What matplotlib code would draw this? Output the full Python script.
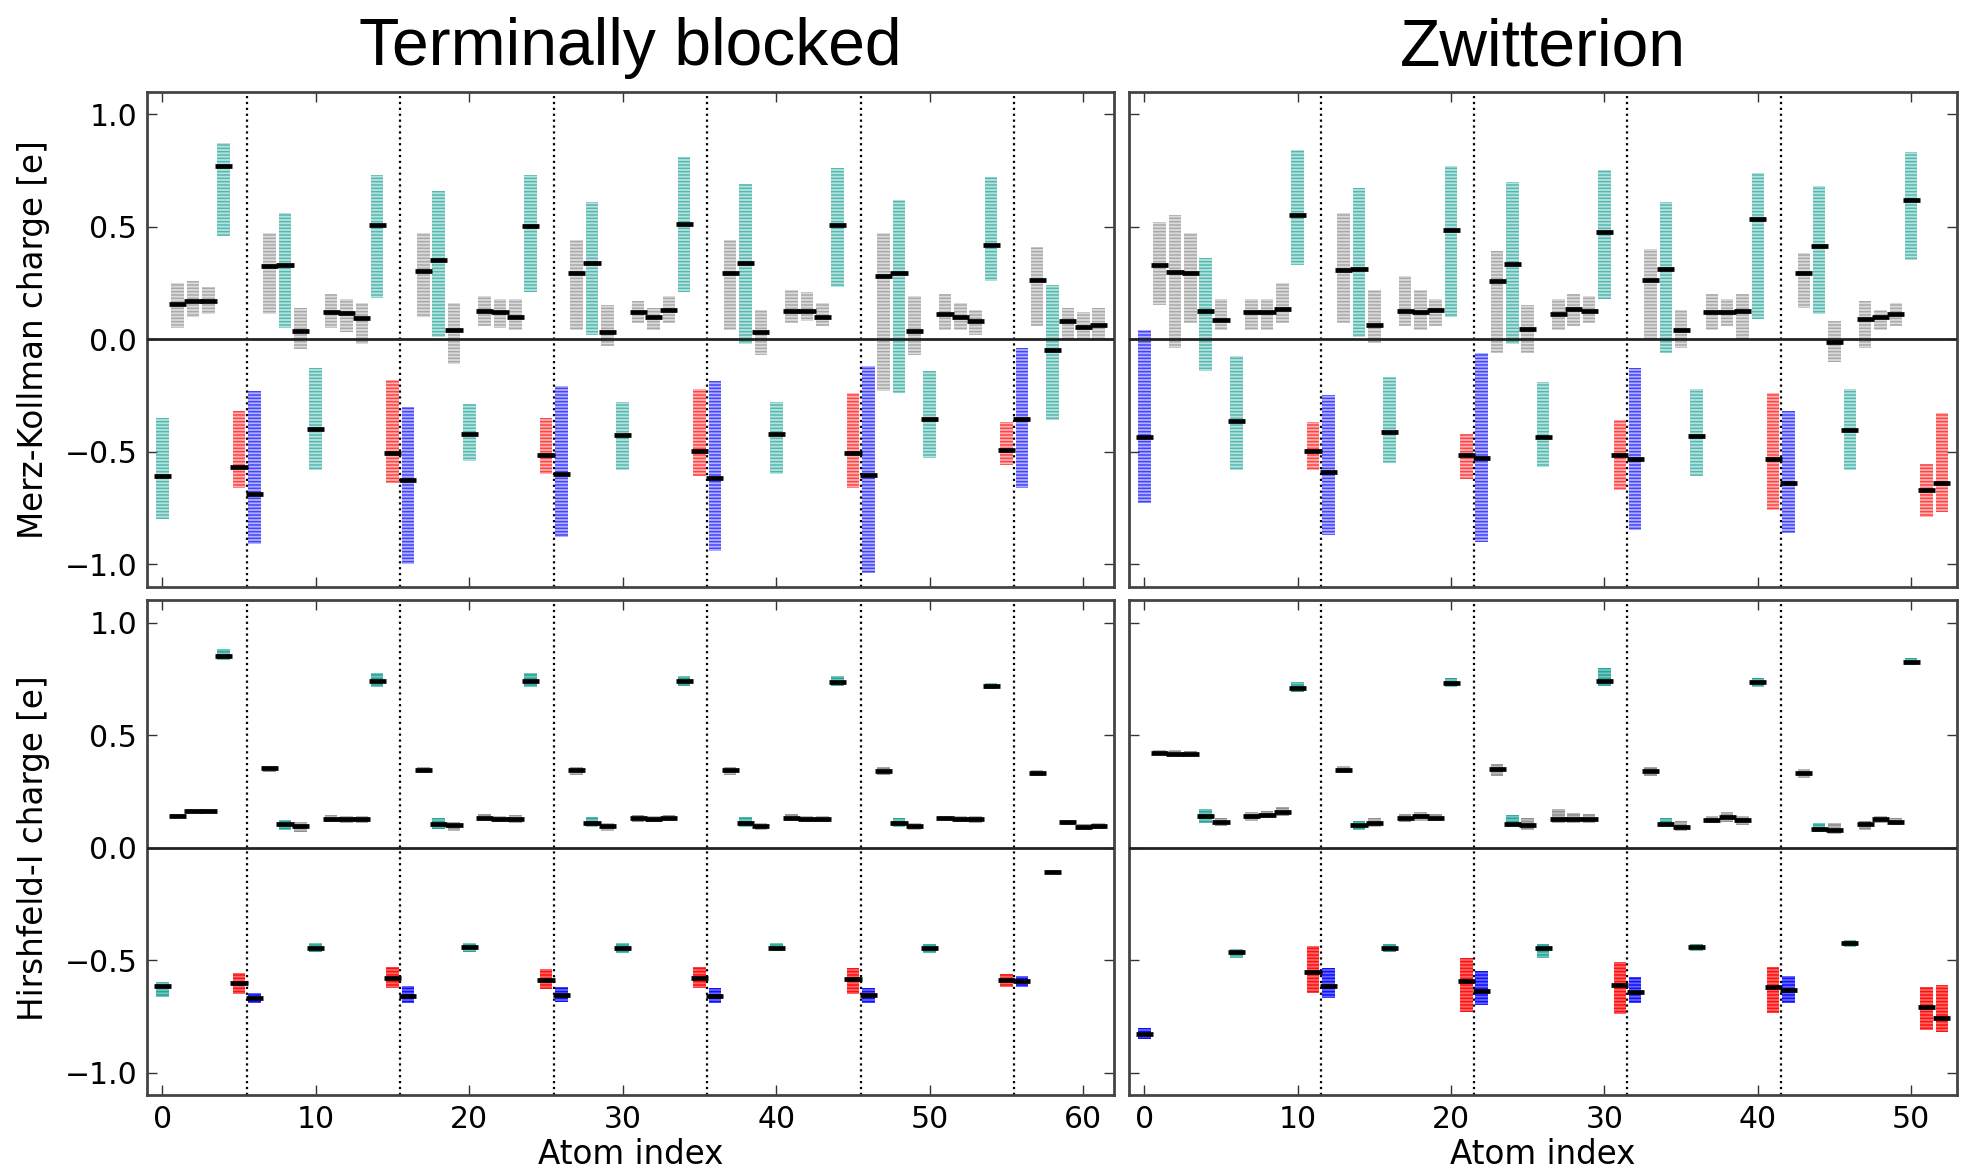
import numpy as np
import matplotlib
matplotlib.use("Agg")
import matplotlib.pyplot as plt
from matplotlib.colors import to_rgba

# ---------------- data ----------------
tb_elements = "CHHHCO" + "NHCHCHHHCO" * 5 + "NHCHHH"          # 62 atoms
zw_elements = "NHHHCHCHHHCO" + "NHCHCHHHCO" * 3 + "NHCHCHHHCOO"  # 53 atoms

tb_dividers = [5.5, 15.5, 25.5, 35.5, 45.5, 55.5]
zw_dividers = [11.5, 21.5, 31.5, 41.5]

# Merz-Kollman, terminally blocked
mk_tb_mean = [-0.61, 0.156, 0.17, 0.17, 0.77, -0.567,
              -0.686, 0.326, 0.33, 0.037, -0.40, 0.121, 0.116, 0.093, 0.507, -0.504,
              -0.627, 0.304, 0.351, 0.039, -0.422, 0.126, 0.119, 0.10, 0.505, -0.514,
              -0.60, 0.296, 0.34, 0.034, -0.425, 0.121, 0.10, 0.129, 0.511, -0.496,
              -0.619, 0.293, 0.34, 0.031, -0.422, 0.126, 0.126, 0.10, 0.507, -0.504,
              -0.604, 0.279, 0.292, 0.037, -0.353, 0.111, 0.10, 0.081, 0.419, -0.492,
              -0.356, 0.262, -0.049, 0.079, 0.056, 0.062]
mk_tb_lo = [-0.80, 0.05, 0.10, 0.11, 0.46, -0.66,
            -0.91, 0.11, 0.05, -0.045, -0.58, 0.05, 0.03, -0.02, 0.185, -0.64,
            -1.00, 0.10, 0.01, -0.11, -0.54, 0.06, 0.05, 0.04, 0.21, -0.60,
            -0.88, 0.04, 0.02, -0.03, -0.58, 0.07, 0.04, 0.07, 0.21, -0.61,
            -0.94, 0.04, -0.02, -0.07, -0.60, 0.07, 0.08, 0.06, 0.23, -0.66,
            -1.04, -0.23, -0.24, -0.07, -0.53, 0.04, 0.04, 0.02, 0.26, -0.56,
            -0.66, 0.06, -0.36, 0.00, 0.00, -0.01]
mk_tb_hi = [-0.35, 0.25, 0.26, 0.23, 0.87, -0.32,
            -0.23, 0.47, 0.56, 0.14, -0.13, 0.20, 0.18, 0.16, 0.73, -0.18,
            -0.30, 0.47, 0.66, 0.16, -0.29, 0.19, 0.18, 0.18, 0.73, -0.35,
            -0.21, 0.44, 0.61, 0.15, -0.28, 0.17, 0.14, 0.19, 0.81, -0.22,
            -0.185, 0.44, 0.69, 0.13, -0.28, 0.22, 0.21, 0.16, 0.76, -0.24,
            -0.12, 0.47, 0.62, 0.19, -0.14, 0.20, 0.16, 0.13, 0.72, -0.37,
            -0.04, 0.41, 0.24, 0.14, 0.12, 0.14]

# Merz-Kollman, zwitterion
mk_zw_mean = [-0.434, 0.329, 0.30, 0.293, 0.126, 0.087, -0.364, 0.119, 0.119, 0.136, 0.553, -0.496,
              -0.59, 0.307, 0.31, 0.065, -0.413, 0.126, 0.119, 0.129, 0.484, -0.514,
              -0.529, 0.259, 0.333, 0.044, -0.434, 0.111, 0.133, 0.126, 0.477, -0.514,
              -0.533, 0.264, 0.314, 0.04, -0.43, 0.119, 0.119, 0.126, 0.532, -0.533,
              -0.64, 0.292, 0.412, -0.012, -0.404, 0.09, 0.099, 0.111, 0.619, -0.671, -0.641]
mk_zw_lo = [-0.73, 0.15, -0.04, 0.07, -0.14, 0.04, -0.58, 0.04, 0.04, 0.07, 0.33, -0.58,
            -0.87, 0.07, 0.01, -0.015, -0.55, 0.06, 0.04, 0.06, 0.10, -0.62,
            -0.90, -0.06, -0.02, -0.06, -0.57, 0.04, 0.06, 0.07, 0.18, -0.67,
            -0.85, 0.00, -0.06, -0.04, -0.61, 0.04, 0.06, 0.00, 0.09, -0.76,
            -0.86, 0.14, 0.11, -0.10, -0.58, -0.04, 0.04, 0.06, 0.35, -0.79, -0.77]
mk_zw_hi = [0.04, 0.52, 0.55, 0.47, 0.36, 0.18, -0.074, 0.18, 0.18, 0.25, 0.84, -0.37,
            -0.25, 0.56, 0.67, 0.22, -0.17, 0.28, 0.22, 0.18, 0.77, -0.42,
            -0.06, 0.39, 0.70, 0.15, -0.19, 0.18, 0.20, 0.19, 0.75, -0.36,
            -0.13, 0.40, 0.61, 0.13, -0.22, 0.20, 0.18, 0.20, 0.74, -0.24,
            -0.32, 0.385, 0.68, 0.08, -0.22, 0.17, 0.13, 0.16, 0.83, -0.556, -0.33]

# Hirshfeld-I, terminally blocked
hi_tb_mean = [-0.613, 0.141, 0.162, 0.162, 0.853, -0.60,
              -0.667, 0.352, 0.104, 0.095, -0.444, 0.129, 0.127, 0.127, 0.74, -0.58,
              -0.66, 0.347, 0.107, 0.099, -0.442, 0.134, 0.129, 0.129, 0.739, -0.586,
              -0.655, 0.347, 0.112, 0.095, -0.444, 0.13, 0.129, 0.134, 0.74, -0.58,
              -0.657, 0.347, 0.112, 0.095, -0.444, 0.134, 0.127, 0.127, 0.737, -0.583,
              -0.655, 0.343, 0.112, 0.095, -0.444, 0.13, 0.129, 0.129, 0.717, -0.586,
              -0.593, 0.333, -0.106, 0.116, 0.094, 0.097]
hi_tb_lo = [-0.665, 0.13, 0.152, 0.152, 0.835, -0.65,
            -0.69, 0.335, 0.08, 0.07, -0.465, 0.115, 0.11, 0.11, 0.715, -0.625,
            -0.69, 0.33, 0.085, 0.075, -0.465, 0.12, 0.115, 0.11, 0.715, -0.63,
            -0.685, 0.325, 0.09, 0.075, -0.47, 0.115, 0.115, 0.12, 0.72, -0.625,
            -0.69, 0.325, 0.09, 0.08, -0.46, 0.12, 0.115, 0.115, 0.72, -0.65,
            -0.69, 0.325, 0.09, 0.08, -0.47, 0.12, 0.115, 0.11, 0.705, -0.62,
            -0.62, 0.32, -0.115, 0.10, 0.08, 0.085]
hi_tb_hi = [-0.595, 0.15, 0.172, 0.172, 0.885, -0.555,
            -0.645, 0.365, 0.125, 0.115, -0.425, 0.145, 0.14, 0.14, 0.775, -0.53,
            -0.615, 0.36, 0.13, 0.115, -0.425, 0.15, 0.14, 0.145, 0.775, -0.54,
            -0.62, 0.36, 0.135, 0.11, -0.425, 0.145, 0.14, 0.145, 0.765, -0.53,
            -0.625, 0.36, 0.135, 0.11, -0.425, 0.15, 0.14, 0.14, 0.765, -0.535,
            -0.625, 0.36, 0.13, 0.11, -0.43, 0.14, 0.14, 0.14, 0.73, -0.56,
            -0.57, 0.345, -0.10, 0.125, 0.105, 0.11]

# Hirshfeld-I, zwitterion
hi_zw_mean = [-0.828, 0.423, 0.418, 0.418, 0.139, 0.114, -0.463, 0.139, 0.147, 0.159, 0.711, -0.553,
              -0.614, 0.346, 0.102, 0.109, -0.446, 0.132, 0.139, 0.134, 0.734, -0.594,
              -0.635, 0.35, 0.107, 0.102, -0.447, 0.127, 0.127, 0.126, 0.74, -0.61,
              -0.643, 0.34, 0.106, 0.092, -0.442, 0.122, 0.136, 0.122, 0.735, -0.621,
              -0.633, 0.33, 0.084, 0.08, -0.425, 0.106, 0.127, 0.114, 0.826, -0.707, -0.757]
hi_zw_lo = [-0.85, 0.41, 0.405, 0.405, 0.11, 0.095, -0.49, 0.12, 0.13, 0.14, 0.69, -0.645,
            -0.67, 0.33, 0.08, 0.09, -0.465, 0.115, 0.12, 0.12, 0.715, -0.73,
            -0.70, 0.32, 0.09, 0.08, -0.49, 0.11, 0.11, 0.11, 0.72, -0.74,
            -0.69, 0.32, 0.09, 0.075, -0.46, 0.11, 0.115, 0.10, 0.715, -0.735,
            -0.69, 0.31, 0.07, 0.06, -0.44, 0.08, 0.11, 0.10, 0.81, -0.81, -0.82]
hi_zw_hi = [-0.80, 0.435, 0.435, 0.43, 0.17, 0.13, -0.45, 0.16, 0.165, 0.18, 0.735, -0.435,
            -0.535, 0.365, 0.12, 0.13, -0.43, 0.15, 0.16, 0.15, 0.755, -0.49,
            -0.55, 0.37, 0.145, 0.13, -0.43, 0.17, 0.155, 0.15, 0.80, -0.51,
            -0.575, 0.36, 0.13, 0.12, -0.43, 0.14, 0.16, 0.14, 0.755, -0.53,
            -0.57, 0.35, 0.11, 0.11, -0.41, 0.12, 0.14, 0.13, 0.845, -0.62, -0.61]

element_colors = {"H": "#8a8a8a", "C": "#16a092", "O": "#ff0000", "N": "#0000ff"}

# ---------------- figure ----------------
plt.rcParams["font.family"] = ["DejaVu Sans"]
plt.rcParams["hatch.linewidth"] = 1.1

fig = plt.figure(figsize=(19.67, 11.72), dpi=100)

L_left, L_w = 0.0747, 0.4916
R_left, R_w = 0.5740, 0.4210
T_bot, B_bot, H = 0.4994, 0.0655, 0.4224

ax_tl = fig.add_axes([L_left, T_bot, L_w, H])
ax_tr = fig.add_axes([R_left, T_bot, R_w, H])
ax_bl = fig.add_axes([L_left, B_bot, L_w, H])
ax_br = fig.add_axes([R_left, B_bot, R_w, H])


def draw(ax, elems, mean, lo, hi, fill_alpha, hatch_alpha):
    x = np.arange(len(elems))
    lo = np.asarray(lo)
    hi = np.asarray(hi)
    cols = [element_colors[e] for e in elems]
    fc = [to_rgba(c, fill_alpha) for c in cols]
    ec = [to_rgba(c, hatch_alpha) for c in cols]
    ax.bar(x, hi - lo, bottom=lo, width=0.82, color=fc, edgecolor=ec,
           linewidth=0, hatch="-----", zorder=2)
    ax.hlines(mean, x - 0.56, x + 0.56, color="black", lw=3.4, zorder=4)


draw(ax_tl, tb_elements, mk_tb_mean, mk_tb_lo, mk_tb_hi, 0.30, 0.62)
draw(ax_tr, zw_elements, mk_zw_mean, mk_zw_lo, mk_zw_hi, 0.30, 0.62)
draw(ax_bl, tb_elements, hi_tb_mean, hi_tb_lo, hi_tb_hi, 0.6, 0.85)
draw(ax_br, zw_elements, hi_zw_mean, hi_zw_lo, hi_zw_hi, 0.6, 0.85)

for ax, divs, n in [(ax_tl, tb_dividers, 62), (ax_bl, tb_dividers, 62),
                    (ax_tr, zw_dividers, 53), (ax_br, zw_dividers, 53)]:
    for d in divs:
        ax.axvline(d, color="black", ls=":", lw=1.6, zorder=1)
    ax.axhline(0, color="#222222", lw=2.0, zorder=3)
    ax.set_xlim(-1, n)
    ax.set_ylim(-1.1, 1.1)
    ax.set_yticks([-1.0, -0.5, 0.0, 0.5, 1.0])
    ax.set_xticks(np.arange(0, n, 10))
    ax.tick_params(direction="in", top=True, right=True, length=7, width=1.0,
                   labelsize=21.5, pad=7, color="#333333")
    for s in ax.spines.values():
        s.set_color("#444444")
        s.set_linewidth(2.0)

for ax in (ax_tl, ax_tr):
    ax.tick_params(labelbottom=False)
for ax in (ax_tr, ax_br):
    ax.tick_params(labelleft=False)

ax_tl.set_ylabel("Merz-Kollman charge [e]", fontsize=23.5)
ax_bl.set_ylabel("Hirshfeld-I charge [e]", fontsize=23.5)
for ax in (ax_tl, ax_bl):
    ax.yaxis.set_label_coords(-0.100, 0.5)

for ax in (ax_bl, ax_br):
    ax.set_xlabel("Atom index", fontsize=23.5)
    ax.xaxis.set_label_coords(0.5, -0.086)

title_y = 1 - 65 / 1172
fig.text(L_left + L_w / 2, title_y, "Terminally blocked", ha="center", va="baseline",
         fontsize=47.5, family=["Liberation Sans", "DejaVu Sans"])
fig.text(R_left + R_w / 2, title_y, "Zwitterion", ha="center", va="baseline",
         fontsize=47.5, family=["Liberation Sans", "DejaVu Sans"])

fig.savefig("out.png", dpi=100)
